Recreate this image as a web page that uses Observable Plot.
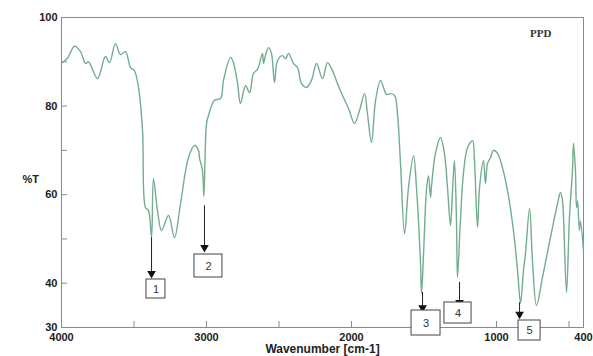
<!DOCTYPE html>
<html>
<head>
<meta charset="utf-8">
<script src="https://cdn.jsdelivr.net/npm/d3@7"></script>
<script src="https://cdn.jsdelivr.net/npm/@observablehq/plot@0.6"></script>
<style>
  html, body { margin: 0; padding: 0; background: #fff; }
  #chart svg { display: block; }
</style>
</head>
<body>
<div id="chart"></div>
<script>
// Spectrum
const wavenumber = [4000,3959,3910,3869,3834,3814,3752,3697,3669,3628,3593,3559,3524,3497,3469,3441,3421,3400,3379,3366,3338,3310,3262,3221,3179,3124,3083,3055,3048,3028,3018,3000,2986,2945,2903,2883,2834,2814,2786,2766,2731,2703,2676,2648,2614,2607,2593,2572,2552,2531,2510,2476,2455,2434,2400,2372,2345,2310,2276,2241,2200,2166,2131,2097,2062,2021,1979,1945,1910,1890,1862,1834,1800,1779,1759,1731,1703,1683,1662,1634,1607,1572,1552,1524,1517,1503,1483,1469,1455,1448,1421,1386,1359,1338,1317,1303,1290,1276,1269,1248,1228,1200,1165,1152,1131,1117,1090,1076,1062,1041,1021,993,959,924,883,855,834,814,800,772,752,724,683,628,579,559,545,538,517,497,476,469,455,448,441,428,421,400];
const transmittance = [89.7,90.8,93.5,92.3,89.6,90.0,86.2,91.2,89.8,94.1,91.6,92.3,88.7,88.0,84.2,74.5,57.1,56.4,50.3,63.6,56.4,51.9,55.3,50.3,58.0,68.4,71.1,70.0,68.2,65.5,59.6,76.0,77.9,81.3,81.7,85.8,91.0,89.8,85.1,80.6,84.6,83.0,87.4,88.3,91.9,89.6,91.5,93.2,91.9,85.3,90.3,91.4,90.7,91.9,89.6,88.7,85.1,84.2,85.8,89.6,86.2,89.8,88.0,85.1,82.4,79.5,76.1,79.0,82.8,78.3,71.8,81.3,85.8,84.2,82.6,82.8,82.4,78.3,67.0,51.2,61.6,68.8,61.6,44.4,37.7,46.7,61.0,64.3,59.4,62.0,69.3,72.9,69.3,61.6,53.0,61.0,67.7,54.2,41.3,54.8,64.8,70.6,72.2,67.7,52.6,61.6,67.7,62.5,67.0,68.4,70.0,69.3,66.1,60.9,51.9,42.9,35.5,42.9,46.7,56.9,45.1,35.0,41.3,50.3,58.0,60.5,58.7,55.0,37.9,54.8,65.5,71.6,65.0,57.1,58.5,51.9,54.0,47.4];

// Axis ticks
const xTickValues = [4000,3500,3000,2500,2000,1500,1000,500];
const xLabelValues = [4000,3000,2000,1000,400];
const yTickValues = [30,40,50,60,70,80,90,100];
const yLabelValues = [30,40,60,80,100];

// Peak annotations
const peakLabels = ["1","2","3","4","5"];
const peakWn = [3379,3014,1510,1255,841];
const arrowFrom = [50.3,57.5,37.9,40.2,35.6];
const arrowTo = [42.4,48.3,34.7,35.9,33.2];
const boxX1 = [3414,3083,1586,1359,848];
const boxX2 = [3283,2890,1386,1172,696];
const boxY1 = [40.84,46.48,33.84,35.65,31.58];
const boxY2 = [36.55,41.29,28.19,30.9,27.06];

const spectrum = wavenumber.map((w, i) => ({w, t: transmittance[i]}));
const peaks = peakLabels.map((label, i) => ({
  label, w: peakWn[i], from: arrowFrom[i], to: arrowTo[i],
  x1: boxX1[i], x2: boxX2[i], y1: boxY1[i], y2: boxY2[i]
}));

const font = "'Liberation Sans', Arial, sans-serif";

const chart = Plot.plot({
  width: 593,
  height: 356,
  marginLeft: 61,
  marginRight: 10,
  marginTop: 17,
  marginBottom: 29,
  style: {fontFamily: font, background: "#fff", overflow: "visible"},
  x: {domain: [4000, 400]},
  y: {domain: [30, 100]},
  marks: [
    Plot.frame({stroke: "#8a8a8a", strokeWidth: 1}),
    Plot.tickX(xTickValues, {x: d => d, insetTop: 304, stroke: "#8a8a8a"}),
    Plot.tickY(yTickValues, {y: d => d, insetRight: 516, stroke: "#8a8a8a"}),
    Plot.axisX(xLabelValues, {tickSize: 0, tickPadding: 6, label: null, fontSize: 11, fontWeight: "bold", fill: "#222", tickFormat: d => String(d)}),
    Plot.axisY(yLabelValues, {tickSize: 0, tickPadding: 4, label: null, fontSize: 11, fontWeight: "bold", fill: "#222", tickFormat: d => String(d)}),
    Plot.line(spectrum, {x: "w", y: "t", curve: "catmull-rom", stroke: "#74ad8e", strokeWidth: 1.4}),
    Plot.ruleX(peaks, {x: "w", y1: "from", y2: "to", stroke: "#222", strokeWidth: 1}),
    Plot.dot(peaks, {x: "w", y: "to", symbol: "triangle", rotate: 180, r: 3.2, fill: "#111", stroke: "none", dy: 1}),
    Plot.rect(peaks, {x1: "x1", x2: "x2", y1: "y1", y2: "y2", fill: "#fff", stroke: "#444", strokeWidth: 1}),
    Plot.text(peaks, {x: d => (d.x1 + d.x2) / 2, y: d => (d.y1 + d.y2) / 2, text: "label", fontSize: 11, fill: "#333"}),
    Plot.text(["%T"], {frameAnchor: "left", dx: -39, dy: 7, fontSize: 11, fontWeight: "bold", fill: "#222"}),
    Plot.text(["Wavenumber [cm-1]"], {frameAnchor: "bottom", dy: 25.5, fontSize: 12, fontWeight: "bold", fill: "#222"}),
    Plot.text(["PPD"], {frameAnchor: "top-right", dx: -32, dy: 12, fontSize: 11, fontWeight: "bold", fill: "#333", fontFamily: "'Liberation Serif', 'DejaVu Serif', serif"})
  ]
});
document.getElementById("chart").appendChild(chart);
</script>
</body>
</html>
